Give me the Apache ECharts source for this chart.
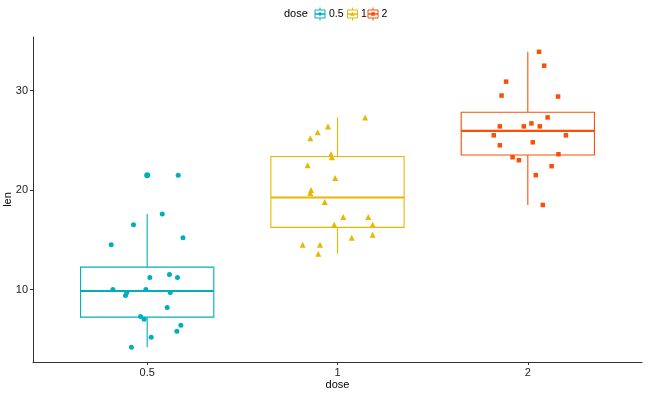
<!DOCTYPE html>
<html>
<head>
<meta charset="utf-8">
<script src="https://cdn.jsdelivr.net/npm/echarts@6/dist/echarts.min.js"></script>
<style>html,body{margin:0;padding:0;background:#fff}#c{width:650px;height:394px}</style>
</head>
<body>
<div id="c"></div>
<script>
// ---- data ----
const doses = ['0.5', '1', '2'];
const colors = ['#00AFBB', '#E7B800', '#FC4E07'];
const shapes = ['circle', 'triangle', 'rect'];
const yTicks = [10, 20, 30];
// box stats: [min, Q1, median, Q3, max]
const box05 = [4.2, 7.225, 9.85, 12.25, 17.6];
const box1 = [13.6, 16.25, 19.25, 23.375, 27.3];
const box2 = [18.5, 23.525, 25.95, 27.825, 33.9];
const outliers05 = [21.5];
// jittered points: len values and horizontal jitter offsets (category units)
const len05 = [21.5, 17.6, 16.5, 15.2, 14.5, 11.2, 11.5, 11.2, 10.0, 10.0, 9.7, 9.7, 9.4, 8.2, 7.3, 7.0, 6.4, 5.8, 5.2, 4.2];
const jit05 = [0.163, 0.079, -0.072, 0.188, -0.189, 0.014, 0.117, 0.159, -0.180, -0.007, 0.121, -0.107, -0.114, 0.105, -0.035, -0.016, 0.177, 0.156, 0.021, -0.083];
const len1 = [27.3, 26.4, 25.8, 25.2, 23.6, 23.3, 22.5, 21.2, 20.0, 19.7, 18.8, 17.3, 17.3, 16.5, 16.5, 15.5, 15.2, 14.5, 14.5, 13.6];
const jit1 = [0.145, -0.050, -0.104, -0.143, -0.034, -0.030, -0.157, -0.012, -0.139, -0.143, -0.067, 0.030, 0.162, 0.185, -0.017, 0.185, 0.075, -0.183, -0.092, -0.101];
const len2 = [33.9, 32.5, 30.9, 29.5, 29.4, 27.3, 26.7, 26.4, 26.4, 26.4, 25.5, 25.5, 24.8, 24.5, 23.6, 23.3, 23.0, 22.4, 21.5, 18.5];
const jit2 = [0.059, 0.086, -0.114, -0.138, 0.159, 0.104, 0.019, -0.147, -0.021, 0.063, -0.179, 0.200, 0.026, -0.147, 0.161, -0.080, -0.047, 0.125, 0.042, 0.079];

const boxes = [box05, box1, box2];
const lens = [len05, len1, len2];
const jits = [jit05, jit1, jit2];

const chart = echarts.init(document.getElementById('c'), null, {renderer: 'canvas'});
const FONT = '"Liberation Sans", Arial, sans-serif';

const boxData = boxes.map((b, i) => [i + 1].concat(b).concat([i]));

const series = [{
  type: 'custom',
  z: 1,
  data: boxData,
  encode: {x: 0, y: [1, 2, 3, 4, 5]},
  renderItem: function (params, api) {
    const x = api.value(0);
    const ci = api.value(6);
    const col = colors[ci];
    const w = api.size([0.7, 0])[0];
    const pMin = api.coord([x, api.value(1)]);
    const pQ1 = api.coord([x, api.value(2)]);
    const pMed = api.coord([x, api.value(3)]);
    const pQ3 = api.coord([x, api.value(4)]);
    const pMax = api.coord([x, api.value(5)]);
    const cx = pMed[0];
    return {
      type: 'group',
      children: [
        {type: 'line', shape: {x1: cx, y1: pQ3[1], x2: cx, y2: pMax[1]}, style: {stroke: col, lineWidth: 1.1}},
        {type: 'line', shape: {x1: cx, y1: pQ1[1], x2: cx, y2: pMin[1]}, style: {stroke: col, lineWidth: 1.1}},
        {type: 'rect', shape: {x: cx - w / 2, y: pQ3[1], width: w, height: pQ1[1] - pQ3[1]}, style: {fill: '#fff', stroke: col, lineWidth: 1.1}},
        {type: 'line', shape: {x1: cx - w / 2, y1: pMed[1], x2: cx + w / 2, y2: pMed[1]}, style: {stroke: col, lineWidth: 2.2}}
      ]
    };
  }
}, {
  type: 'scatter',
  z: 3,
  symbol: 'circle',
  symbolSize: 6,
  itemStyle: {color: colors[0], opacity: 1},
  data: outliers05.map(v => [1, v])
}];

lens.forEach((arr, i) => {
  series.push({
    type: 'scatter',
    name: doses[i],
    z: 4,
    symbol: shapes[i],
    symbolSize: shapes[i] === 'triangle' ? 6 : (shapes[i] === 'rect' ? 4.5 : 5),
    itemStyle: {color: colors[i], opacity: 1},
    data: arr.map((v, k) => [i + 1 + jits[i][k], v])
  });
});

// legend drawn as graphic
const legendKeys = [];
const legendTexts = [{
  type: 'text',
  style: {x: 284, y: 14, text: 'dose', font: '11px ' + FONT, fill: '#000', verticalAlign: 'middle'}
}];
const keyCenters = [320, 352.5, 373];
const labelLefts = [329, 361, 381.5];
doses.forEach((d, i) => {
  const cx = keyCenters[i], cy = 14, col = colors[i];
  legendKeys.push(
    {type: 'line', shape: {x1: cx, y1: 7.5, x2: cx, y2: 20.5}, style: {stroke: col, lineWidth: 1}},
    {type: 'rect', shape: {x: cx - 5, y: 10, width: 10, height: 8}, style: {fill: '#fff', stroke: col, lineWidth: 1}},
    {type: 'line', shape: {x1: cx - 5, y1: cy, x2: cx + 5, y2: cy}, style: {stroke: col, lineWidth: 1.5}}
  );
  if (shapes[i] === 'circle') legendKeys.push({type: 'circle', shape: {cx: cx, cy: cy, r: 1.8}, style: {fill: col}});
  else if (shapes[i] === 'triangle') legendKeys.push({type: 'polygon', shape: {points: [[cx, cy - 2.3], [cx + 2.3, cy + 1.8], [cx - 2.3, cy + 1.8]]}, style: {fill: col}});
  else legendKeys.push({type: 'rect', shape: {x: cx - 1.8, y: cy - 1.8, width: 3.6, height: 3.6}, style: {fill: col}});
  legendTexts.push({type: 'text', style: {x: labelLefts[i], y: 14, text: d, font: '10.5px ' + FONT, fill: '#000', verticalAlign: 'middle'}});
});

chart.setOption({
  animation: false,
  backgroundColor: '#fff',
  grid: {left: 33, right: 8, top: 37, bottom: 32, containLabel: false, outerBoundsMode: 'none'},
  xAxis: {
    type: 'value', min: 0.4, max: 3.6,
    name: 'dose', nameLocation: 'middle', nameGap: 17, nameMoveOverlap: false,
    nameTextStyle: {fontFamily: FONT, fontSize: 11, color: '#000'},
    axisLine: {show: true, lineStyle: {color: '#333', width: 1}},
    axisTick: {show: true, length: 3, customValues: [1, 2, 3], lineStyle: {color: '#333'}},
    axisLabel: {customValues: [1, 2, 3], formatter: v => doses[Math.round(v) - 1] || '', margin: 5, fontFamily: FONT, fontSize: 11, color: '#222'},
    splitLine: {show: false}
  },
  yAxis: {
    type: 'value', min: 2.715, max: 35.385,
    name: 'len', nameLocation: 'middle', nameGap: 20, nameRotate: 90, nameMoveOverlap: false,
    nameTextStyle: {fontFamily: FONT, fontSize: 11, color: '#000'},
    axisLine: {show: true, lineStyle: {color: '#333', width: 1}},
    axisTick: {show: true, length: 3, customValues: yTicks, lineStyle: {color: '#333'}},
    axisLabel: {customValues: yTicks, margin: 5, fontFamily: FONT, fontSize: 11, color: '#222'},
    splitLine: {show: false}
  },
  graphic: [{type: 'group', children: legendKeys.concat(legendTexts)}],
  series: series
});
</script>
</body>
</html>
